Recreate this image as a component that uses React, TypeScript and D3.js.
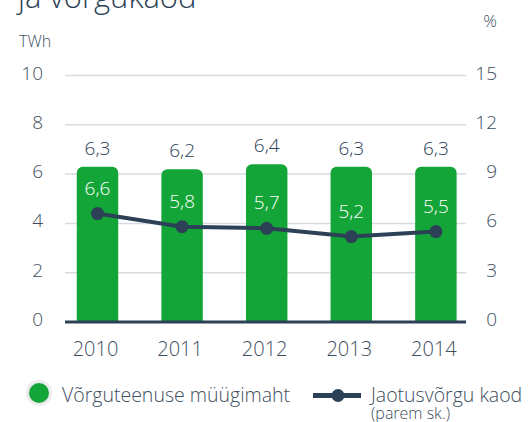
import React from "react";
import * as d3 from "d3";

const years = ["2010", "2011", "2012", "2013", "2014"];
const sales = [6.3, 6.2, 6.4, 6.3, 6.3];
const losses = [6.6, 5.8, 5.7, 5.2, 5.5];
const leftTicks = [0, 2, 4, 6, 8, 10];
const rightTicks = [0, 3, 6, 9, 12, 15];

const W = 528;
const H = 422;
const GREEN = "#13a538";
const DARK = "#2c4156";
const TEXT = "#3e4f60";
const GRID = "#d6dce2";
const FONT = "'Open Sans', sans-serif";

const fmt = (v: number) => v.toFixed(1).replace(".", ",");

function barPath(x0: number, y0: number, w: number, y1: number, r: number) {
  const p = d3.path();
  p.moveTo(x0, y1);
  p.lineTo(x0, y0 + r);
  p.arcTo(x0, y0, x0 + r, y0, r);
  p.lineTo(x0 + w - r, y0);
  p.arcTo(x0 + w, y0, x0 + w, y0 + r, r);
  p.lineTo(x0 + w, y1);
  p.closePath();
  return p.toString();
}

export default function App() {
  const x = d3.scaleBand<string>().domain(years).range([55.2, 478.2]).paddingInner(0.51).paddingOuter(0.255);
  const yL = d3.scaleLinear().domain([0, 10]).range([322, 75.5]);
  const yR = d3.scaleLinear().domain([0, 15]).range([322, 75.5]);
  const bw = x.bandwidth();
  const cx = (d: string) => (x(d) as number) + bw / 2;
  const line = d3
    .line<number>()
    .x((_, i) => cx(years[i]))
    .y((v) => yR(v));

  return (
    <svg
      width={W}
      height={H}
      style={{ position: "absolute", left: 0, top: 0, background: "#fff" }}
      fontFamily={FONT}
      fontWeight={300}
    >
      <text x={18} y={8} fontSize={31} fill={DARK}>ja võrgukaod</text>
      <text x={19} y={47} fontSize={16} fill={TEXT}>TWh</text>
      <text x={497} y={27} fontSize={17} fill={TEXT} textAnchor="end">%</text>

      {leftTicks.map((t) => (
        <g key={"g" + t}>
          {t !== 0 && <line x1={65} x2={466} y1={yL(t)} y2={yL(t)} stroke={GRID} strokeWidth={1.5} />}
          <text x={43} y={yL(t) + 4} fontSize={19} fill={TEXT} textAnchor="end">{t}</text>
        </g>
      ))}
      {rightTicks.map((t) => (
        <text key={"r" + t} x={497} y={yR(t) + 4} fontSize={19} fill={TEXT} textAnchor="end">{t}</text>
      ))}

      {years.map((d, i) => (
        <g key={d}>
          <path d={barPath(x(d) as number, yL(sales[i]), bw, yL(0), 6)} fill={GREEN} />
          <text x={cx(d)} y={yL(sales[i]) - 12} fontSize={19} fill={DARK} textAnchor="middle">{fmt(sales[i])}</text>
          <text x={cx(d) - 2} y={356} fontSize={20} fill={TEXT} textAnchor="middle">{d}</text>
        </g>
      ))}

      <line x1={65} x2={466} y1={322} y2={322} stroke={DARK} strokeWidth={3} />

      <path d={line(losses) as string} fill="none" stroke={DARK} strokeWidth={4} />
      {losses.map((v, i) => (
        <g key={"l" + i}>
          <circle cx={cx(years[i])} cy={yR(v)} r={6.5} fill={DARK} />
          <text x={cx(years[i])} y={yR(v) - 19} fontSize={19} fill="#fff" textAnchor="middle">{fmt(v)}</text>
        </g>
      ))}

      <circle cx={39} cy={393} r={13} fill="#ececec" />
      <circle cx={39} cy={393} r={10} fill={GREEN} />
      <text x={62} y={402} fontSize={19.5} fill={TEXT}>Võrguteenuse müügimaht</text>

      <line x1={313} x2={361} y1={395.5} y2={395.5} stroke={DARK} strokeWidth={5} />
      <circle cx={338} cy={395.5} r={6.5} fill={DARK} />
      <text x={371} y={402} fontSize={19.5} fill={TEXT}>Jaotusvõrgu kaod</text>
      <text x={371} y={419} fontSize={16} fill={TEXT}>(parem sk.)</text>
    </svg>
  );
}
